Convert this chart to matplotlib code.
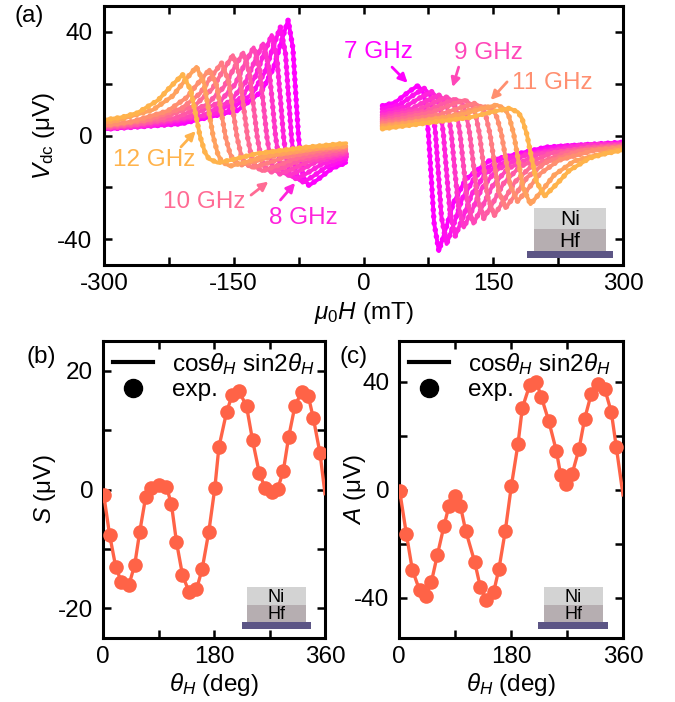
import matplotlib
matplotlib.use('Agg')
import matplotlib.pyplot as plt
from matplotlib.patches import Rectangle
from matplotlib.lines import Line2D
import numpy as np

plt.rcParams['font.family'] = ['Liberation Sans', 'DejaVu Sans']
plt.rcParams['mathtext.fontset'] = 'custom'
plt.rcParams['mathtext.rm'] = 'Liberation Sans'
plt.rcParams['mathtext.it'] = 'Liberation Sans:italic'
plt.rcParams['mathtext.bf'] = 'Liberation Sans:bold'
plt.rcParams['axes.unicode_minus'] = False

# ---- panel (a): Vdc vs field, 7 ... 12 GHz in 0.5 GHz steps ----
freqs = [7, 7.5, 8, 8.5, 9, 9.5, 10, 10.5, 11, 11.5, 12]

neg_H = [
    [-300, -210.8, -145.4, -118.2, -104.0, -95.3, -87.1, -81.6, -78.4, -75.1, -71.8, -69.1, -63.1, -52.8, -36.4, -20],
    [-300, -228.3, -158.4, -129.3, -114.1, -104.8, -96.1, -90.2, -86.8, -83.3, -79.8, -76.9, -70.4, -59.4, -41.9, -20],
    [-300, -246.8, -172.4, -141.4, -125.3, -115.4, -106.1, -99.9, -96.1, -92.4, -88.7, -85.6, -78.8, -67.0, -48.4, -20],
    [-300, -265.3, -186.4, -153.5, -136.4, -125.9, -116.0, -109.5, -105.5, -101.6, -97.6, -94.4, -87.1, -74.6, -54.9, -20],
    [-300, -284.8, -201.4, -166.7, -148.6, -137.5, -127.0, -120.1, -115.9, -111.7, -107.6, -104.1, -96.5, -83.3, -62.4, -20],
    [-300, -261.4, -217.4, -180.8, -161.7, -150.0, -139.0, -131.7, -127.3, -122.9, -118.5, -114.9, -106.8, -92.9, -70.9, -20],
    [-300, -279.6, -233.4, -194.9, -174.9, -162.6, -151.0, -143.3, -138.7, -134.1, -129.5, -125.6, -117.1, -102.5, -79.4, -33.2, -20],
    [-300, -250.5, -210.1, -189.1, -176.2, -164.1, -156.0, -151.2, -146.3, -141.5, -137.5, -128.6, -113.2, -89.0, -40.6, -20],
    [-300, -268.5, -226.3, -204.3, -190.8, -178.1, -169.6, -164.6, -159.5, -154.4, -150.2, -140.9, -124.9, -99.5, -48.8, -20],
    [-300, -287.5, -243.4, -220.4, -206.3, -193.1, -184.2, -179.0, -173.7, -168.4, -164.0, -154.2, -137.5, -111.0, -58.1, -20],
    [-300, -279.9, -261.5, -237.6, -222.9, -209.1, -199.9, -194.3, -188.8, -183.3, -178.7, -168.6, -151.1, -123.5, -68.3, -20],
]
neg_V = [
    [2.4, 4.5, 9.7, 16.9, 26.0, 35.9, 44.6, 33.7, 16.6, -0.5, -11.7, -16.5, -19.3, -17.0, -12.7, -10.5],
    [2.6, 4.2, 9.1, 15.8, 24.4, 33.8, 41.9, 31.7, 15.6, -0.5, -11.0, -15.6, -18.2, -16.0, -11.9, -9.4],
    [2.7, 3.9, 8.4, 14.6, 22.6, 31.3, 38.8, 29.3, 14.4, -0.5, -10.3, -14.5, -16.9, -14.9, -11.1, -8.2],
    [2.8, 3.5, 7.6, 13.4, 20.6, 28.6, 35.5, 26.8, 13.2, -0.5, -9.4, -13.3, -15.6, -13.7, -10.2, -7.2],
    [3.0, 3.3, 7.3, 12.8, 19.7, 27.4, 34.0, 25.7, 12.6, -0.5, -9.1, -12.8, -14.9, -13.1, -9.8, -6.6],
    [3.2, 4.3, 6.8, 12.0, 18.6, 25.8, 32.0, 24.1, 11.8, -0.5, -8.6, -12.1, -14.1, -12.4, -9.3, -6.0],
    [3.6, 4.2, 6.6, 11.6, 18.0, 24.9, 31.0, 23.4, 11.4, -0.5, -8.3, -11.7, -13.7, -12.0, -9.0, -5.8, -5.4],
    [3.7, 5.9, 10.5, 16.2, 22.6, 28.0, 21.2, 10.3, -0.5, -7.6, -10.6, -12.4, -10.9, -8.2, -5.3, -4.8],
    [3.9, 5.3, 9.5, 14.7, 20.4, 25.4, 19.2, 9.3, -0.5, -6.9, -9.7, -11.3, -10.0, -7.5, -4.9, -4.2],
    [5.0, 5.6, 9.9, 15.3, 21.3, 26.5, 20.0, 9.7, -0.5, -7.2, -10.1, -11.8, -10.4, -7.8, -5.1, -4.1],
    [6.0, 7.0, 8.7, 13.6, 18.9, 23.5, 17.7, 8.6, -0.5, -6.5, -9.0, -10.5, -9.3, -7.0, -4.6, -3.0],
]

pos_H = [
    [22, 36.4, 52.8, 63.1, 69.1, 71.8, 75.1, 78.4, 81.6, 87.1, 95.3, 104.0, 118.2, 145.4, 210.8, 300],
    [22, 41.9, 59.4, 70.4, 76.9, 79.8, 83.3, 86.8, 90.2, 96.1, 104.8, 114.1, 129.3, 158.4, 228.3, 300],
    [22, 48.4, 67.0, 78.8, 85.6, 88.7, 92.4, 96.1, 99.9, 106.1, 115.4, 125.3, 141.4, 172.4, 246.8, 300],
    [22, 54.9, 74.6, 87.1, 94.4, 97.6, 101.6, 105.5, 109.5, 116.0, 125.9, 136.4, 153.5, 186.4, 265.3, 300],
    [22, 62.4, 83.3, 96.5, 104.1, 107.6, 111.7, 115.9, 120.1, 127.0, 137.5, 148.6, 166.7, 201.4, 284.8, 300],
    [22, 70.9, 92.9, 106.8, 114.9, 118.5, 122.9, 127.3, 131.7, 139.0, 150.0, 161.7, 180.8, 217.4, 261.4, 300],
    [22, 33.2, 79.4, 102.5, 117.1, 125.6, 129.5, 134.1, 138.7, 143.3, 151.0, 162.6, 174.9, 194.9, 233.4, 279.6, 300],
    [22, 40.6, 89.0, 113.2, 128.6, 137.5, 141.5, 146.3, 151.2, 156.0, 164.1, 176.2, 189.1, 210.1, 250.5, 300],
    [22, 48.8, 99.5, 124.9, 140.9, 150.2, 154.4, 159.5, 164.6, 169.6, 178.1, 190.8, 204.3, 226.3, 268.5, 300],
    [22, 58.1, 111.0, 137.5, 154.2, 164.0, 168.4, 173.7, 179.0, 184.2, 193.1, 206.3, 220.4, 243.4, 287.5, 300],
    [22, 68.3, 123.5, 151.1, 168.6, 178.7, 183.3, 188.8, 194.3, 199.9, 209.1, 222.9, 237.6, 261.5, 279.9, 300],
]
pos_V = [
    [11.5, 12.7, 17.0, 19.3, 16.5, 11.7, 0.5, -16.6, -33.7, -44.6, -35.9, -26.0, -16.9, -9.7, -4.5, -2.6],
    [10.3, 11.9, 16.0, 18.2, 15.6, 11.0, 0.5, -15.6, -31.7, -41.9, -33.8, -24.4, -15.8, -9.1, -4.2, -3.0],
    [9.0, 11.1, 14.9, 16.9, 14.5, 10.3, 0.5, -14.4, -29.3, -38.8, -31.3, -22.6, -14.6, -8.4, -3.9, -3.2],
    [7.9, 10.2, 13.7, 15.6, 13.3, 9.4, 0.5, -13.2, -26.8, -35.5, -28.6, -20.6, -13.4, -7.6, -3.5, -3.4],
    [7.0, 9.8, 13.1, 14.9, 12.8, 9.1, 0.5, -12.6, -25.7, -34.0, -27.4, -19.7, -12.8, -7.3, -3.9, -3.6],
    [6.2, 9.3, 12.4, 14.1, 12.1, 8.6, 0.5, -11.8, -24.1, -32.0, -25.8, -18.6, -12.0, -6.8, -4.6, -3.9],
    [5.5, 5.8, 9.0, 12.0, 13.7, 11.7, 8.3, 0.5, -11.4, -23.4, -31.0, -24.9, -18.0, -11.6, -6.6, -4.6, -4.2],
    [4.8, 5.3, 8.2, 10.9, 12.4, 10.6, 7.6, 0.5, -10.3, -21.2, -28.0, -22.6, -16.2, -10.5, -5.9, -4.4],
    [4.0, 4.9, 7.5, 10.0, 11.3, 9.7, 6.9, 0.5, -9.3, -19.2, -25.4, -20.4, -14.7, -9.5, -5.6, -4.7],
    [3.4, 5.1, 7.8, 10.4, 11.8, 10.1, 7.2, 0.5, -9.7, -20.0, -26.5, -21.3, -15.3, -9.9, -5.9, -5.2],
    [2.6, 4.6, 7.0, 9.3, 10.5, 9.0, 6.5, 0.5, -8.6, -17.7, -23.5, -18.9, -13.6, -8.7, -7.0, -5.6],
]

# labels with arrows: text, text pos, arrow tail, arrow head (data units)
ann_text = ['12 GHz', '10 GHz', '8 GHz', '7 GHz', '9 GHz', '11 GHz']
ann_idx = [10, 6, 2, 0, 4, 8]
ann_xy_text = [(-242, -9.5), (-184, -25.8), (-69, -31.9), (17, 32.2), (144, 31.9), (218, 20.3)]
ann_tail = [(-211, -4.4), (-130, -23), (-96, -24.9), (33, 26.4), (110, 26.4), (166, 20.7)]
ann_head = [(-194, 1.7), (-110, -17.8), (-79, -18.3), (51, 20.3), (103, 18.7), (147, 13.7)]

# ---- panels (b), (c): angular dependence ----
theta_b = [1.1, 10.8, 20.6, 29.8, 42.2, 51.4, 59.6, 69.3, 78.5, 91.0, 102.9, 111.0, 119.1, 128.9,
           139.7, 151.6, 160.8, 171.6, 181.4, 187.9, 200.3, 209.5, 220.9, 232.8, 242.5, 253.4,
           262.6, 273.4, 283.2, 292.4, 301.0, 311.3, 322.1, 333.0, 341.1, 351.9]
S_exp = [-0.85, -7.7, -13.0, -15.6, -16.0, -12.7, -7.1, -1.2, 0.3, 0.7, 0.45, -2.5, -8.8, -14.4,
         -17.3, -16.8, -13.4, -7.1, 0.3, 7.1, 13.0, 15.9, 16.5, 14.0, 8.3, 2.8,
         0.3, -0.4, 0.1, 3.1, 8.8, 14.1, 16.4, 15.7, 12.0, 6.1]
theta_b_fit = theta_b + [360]
S_fit = S_exp + [-0.7]

theta_c = [1.1, 11.8, 21.4, 33.2, 42.9, 52.0, 61.6, 72.3, 80.4, 89.5, 98.6, 107.1, 121.6, 130.7,
           140.4, 152.1, 160.7, 170.9, 180.5, 191.2, 198.2, 210.0, 220.7, 228.7, 240.5, 252.9,
           259.8, 268.9, 278.0, 289.3, 298.4, 309.1, 319.8, 330.5, 341.2, 349.3]
A_exp = [-0.6, -16.4, -29.7, -37.4, -39.6, -34.3, -24.3, -13.5, -6.0, -2.5, -6.0, -15.2, -26.8, -36.1,
         -41.1, -38.0, -29.3, -15.2, 1.2, 16.8, 30.2, 38.6, 39.9, 34.3, 25.5, 14.3,
         5.4, 1.9, 5.6, 15.0, 26.2, 35.5, 38.9, 37.4, 28.7, 15.6]
theta_c_fit = theta_c + [360]
A_fit = A_exp + [-2.0]

FS = 17.5
red = '#FF6347'
cols = plt.cm.spring(np.linspace(0, 0.7, len(freqs)))

fig = plt.figure(figsize=(6.75, 7.02), dpi=100)
ax_a = fig.add_axes([104/675, 1 - 265/702, 519/675, 259/702])
ax_b = fig.add_axes([103/675, 1 - 638/702, 222/675, 297/702])
ax_c = fig.add_axes([399/675, 1 - 638/702, 224/675, 297/702])


def style(ax, ypad):
    for s in ax.spines.values():
        s.set_linewidth(2.2)
    ax.tick_params(which='both', direction='in', top=True, right=True, width=1.8, labelsize=FS)
    ax.tick_params(which='major', length=5.5)
    ax.tick_params(which='minor', length=5.5)
    ax.tick_params(axis='x', pad=6)
    ax.tick_params(axis='y', pad=ypad)


def stack(ax, x0, x1, s0, s1, y0, y1, y2, y3, fs):
    ax.add_patch(Rectangle((s0, y0), s1 - s0, y1 - y0, transform=ax.transAxes, color='#5C5585', lw=0, zorder=5))
    ax.add_patch(Rectangle((x0, y1), x1 - x0, y2 - y1, transform=ax.transAxes, color='#B6AEB1', lw=0, zorder=5))
    ax.add_patch(Rectangle((x0, y2), x1 - x0, y3 - y2, transform=ax.transAxes, color='#D3D3D3', lw=0, zorder=5))
    xm = (x0 + x1) / 2
    ax.text(xm, (y1 + y2) / 2 - 0.004, 'Hf', transform=ax.transAxes, ha='center', va='center', fontsize=fs, zorder=6)
    ax.text(xm, (y2 + y3) / 2 - 0.004, 'Ni', transform=ax.transAxes, ha='center', va='center', fontsize=fs, zorder=6)


# panel (a): line plus round dots along it, like the dense measured points
for i in range(len(freqs)):
    for hh, vv in [(neg_H[i], neg_V[i]), (pos_H[i], pos_V[i])]:
        ax_a.plot(hh, vv, color=cols[i], lw=2.8, solid_joinstyle='round', solid_capstyle='round')
        ax_a.plot(hh, vv, color=cols[i], lw=4.0, ls=(0, (0.01, 1.2)), dash_capstyle='round')

for t, k, xt, xa, xh in zip(ann_text, ann_idx, ann_xy_text, ann_tail, ann_head):
    c = cols[k]
    ax_a.text(xt[0], xt[1], t, color=c, fontsize=FS, ha='center', va='center')
    ax_a.annotate('', xy=xh, xytext=xa,
                  arrowprops=dict(arrowstyle='-|>', color=c, lw=2, mutation_scale=13, shrinkA=0, shrinkB=0))

ax_a.set_xlim(-300, 300)
ax_a.set_ylim(-50, 50)
ax_a.set_xticks([-300, -150, 0, 150, 300])
ax_a.set_xticks([-225, -75, 75, 225], minor=True)
ax_a.set_yticks([-40, 0, 40])
ax_a.set_yticks([-20, 20], minor=True)
style(ax_a, 8.5)
ax_a.set_xlabel(r'$\mu_0H$ (mT)', fontsize=FS)
ax_a.set_ylabel(r'$V_{\rm dc}$ (μV)', fontsize=FS)
ax_a.xaxis.set_label_coords(0.5, -0.135)
ax_a.yaxis.set_label_coords(-0.09, 0.5)
stack(ax_a, 0.8285, 0.967, 0.815, 0.981, 0.027, 0.054, 0.139, 0.220, 15)
fig.text(29/675, 1 - 16/702, '(a)', fontsize=FS, ha='center', va='center')

# panels (b), (c)
for ax, th, y, thf, yf, lab, yl, ylcoord, panel, px in [
        (ax_b, theta_b, S_exp, theta_b_fit, S_fit, r'$S$ (μV)', 25, -0.203, '(b)', 41),
        (ax_c, theta_c, A_exp, theta_c_fit, A_fit, r'$A$ (μV)', 55, -0.138, '(c)', 354)]:
    ax.plot(thf, yf, color=red, lw=2.4, zorder=3)
    ax.plot(th, y, 'o', color=red, ms=10.5, mec='none', zorder=4)
    ax.set_xlim(0, 360)
    ax.set_ylim(-yl, yl)
    ax.set_xticks([0, 180, 360])
    ax.set_xticks([90, 270], minor=True)
    style(ax, 7)
    ax.set_xlabel(r'$\theta_H$ (deg)', fontsize=FS)
    ax.set_ylabel(lab, fontsize=FS)
    ax.xaxis.set_label_coords(0.5, -0.11)
    ax.yaxis.set_label_coords(ylcoord, 0.5)
    h = [Line2D([], [], color='black', lw=3),
         Line2D([], [], color='black', marker='o', ls='none', ms=13)]
    ax.legend(h, [r'cos$\theta_H$ sin2$\theta_H$', 'exp.'], loc='upper left', frameon=False,
              fontsize=FS, handlelength=1.65, handletextpad=0.8, borderpad=0.2,
              borderaxespad=0.2, labelspacing=0.1)
    fig.text(px/675, 1 - 357/702, panel, fontsize=FS, ha='center', va='center')

ax_b.set_yticks([-20, 0, 20])
ax_b.set_yticks([-10, 10], minor=True)
ax_c.set_yticks([-40, 0, 40])
ax_c.set_yticks([-20, 20], minor=True)
stack(ax_b, 0.649, 0.914, 0.626, 0.937, 0.030, 0.054, 0.111, 0.172, 13)
stack(ax_c, 0.647, 0.911, 0.621, 0.933, 0.030, 0.054, 0.111, 0.172, 13)

fig.savefig('out.png', dpi=100)
